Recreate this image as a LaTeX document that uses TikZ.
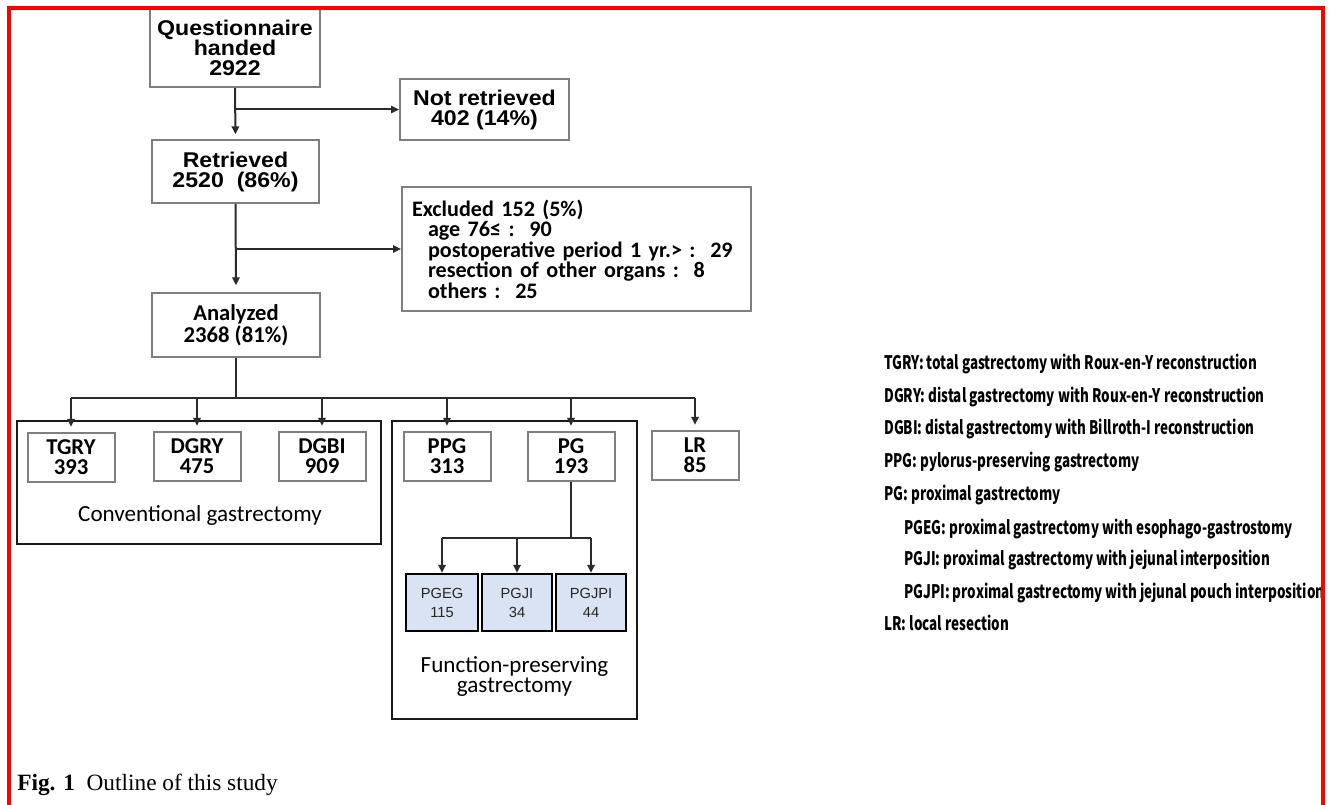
\documentclass[tikz,border=0pt]{standalone}
\usepackage{fontspec}
\setmainfont{Liberation Serif}
\newfontfamily\arialf{Liberation Sans}
\newfontfamily\arialw{Liberation Sans}[FakeStretch=1.085]
\newfontfamily\calf{Carlito}
\newfontfamily\legf{Noto Sans CJK JP}[FakeStretch=0.72]
\usetikzlibrary{arrows.meta,calc}
\definecolor{boxgray}{HTML}{7F7F7F}
\definecolor{linegray}{HTML}{2B2B2B}
\definecolor{subfill}{HTML}{DAE3F3}
\definecolor{framered}{HTML}{FF0000}
\tikzset{
  topbox/.style={draw=boxgray, line width=1.5pt, fill=white, inner sep=0pt, align=center,
    font={\arialw\bfseries\fontsize{16}{15}\selectfont}},
  calbox/.style={draw=boxgray, line width=1.5pt, fill=white, inner sep=0pt, align=center,
    font={\calf\bfseries\fontsize{17}{15}\selectfont}},
  smallbox/.style={calbox, minimum width=65.25pt, minimum height=36.75pt},
  subbox/.style={draw=black, line width=1.8pt, fill=subfill, minimum width=52.5pt,
    minimum height=42.75pt, inner sep=0pt, align=center, text=black!85,
    font={\arialf\fontsize{11}{14.25}\selectfont}},
  groupbox/.style={draw=black!90, line width=2pt, inner sep=0pt},
  grouplabel/.style={inner sep=0pt, align=center, font={\calf\fontsize{17.3}{15}\selectfont}},
  conn/.style={draw=linegray, line width=1.5pt},
  arr/.style={conn, -{Triangle[length=6pt,width=5.5pt]}},
  legend/.style={anchor=base west, inner sep=0pt, font={\legf\bfseries\fontsize{14}{14}\selectfont}}
}
\begin{document}
\begin{tikzpicture}[x=0.75pt,y=-0.75pt]
\useasboundingbox (0,0) rectangle (1333,805);
\fill[white] (0,0) rectangle (1333,805);

% group frames
\node[groupbox, minimum width=273pt, minimum height=92.25pt] (conv) at (199,482.5) {};
\node[groupbox, minimum width=183.75pt, minimum height=223.5pt] (func) at (514.5,570) {};
\node[grouplabel] (convlab) at (200,515) {Conventional gastrectomy};
\node[grouplabel] (funclab) at (514.5,677) {Function-preserving\\gastrectomy};

% main flow
\node[topbox, minimum width=127.5pt, minimum height=58.5pt] (Q) at (235,48) {Questionnaire\\handed\\2922};
\node[topbox, minimum width=126.75pt, minimum height=45.75pt] (NR) at (484.5,109.5) {Not retrieved\\402 (14\%)};
\node[topbox, minimum width=125.25pt, minimum height=47.25pt] (R) at (235.5,171.5) {Retrieved\\2520~~(86\%)};
\node[calbox, text width=246.75pt, inner xsep=7.5pt, minimum height=93pt, align=left,
  font={\calf\bfseries\fontsize{16.6}{15.4}\selectfont}] (EX) at (576.5,249)
  {Excluded 152 (5\%)\\
   \hspace*{12pt}age 76≤ :~~90\\
   \hspace*{12pt}postoperative period 1 yr.> :~~29\\
   \hspace*{12pt}resection of other organs :~~8\\
   \hspace*{12pt}others :~~25};
\node[calbox, minimum width=126pt, minimum height=48pt] (A) at (236,325) {Analyzed\\2368 (81\%)};

% second level
\node[smallbox] (TGRY) at (71,457) {TGRY\\393};
\node[smallbox] (DGRY) at (197,456) {DGRY\\475};
\node[smallbox] (DGBI) at (322,456) {DGBI\\909};
\node[smallbox] (PPG) at (447,456) {PPG\\313};
\node[smallbox] (PG) at (571,456) {PG\\193};
\node[smallbox] (LR) at (695,455) {LR\\85};

% PG sub-types
\node[subbox, minimum width=54pt] (PGEG) at (442,602.5) {PGEG\\115};
\node[subbox] (PGJI) at (517,602.5) {PGJI\\34};
\node[subbox] (PGJPI) at (591,602.5) {PGJPI\\44};

% connectors
\draw[arr, shorten >=3.5pt] (Q.south) -- (R.north);
\coordinate (b1) at (Q.south |- NR.west);
\draw[arr] (b1) -- (NR.west);
\draw[arr, shorten >=5pt] (R.south) -- (A.north);
\coordinate (b2) at (R.south |- EX.west);
\draw[arr] (b2) -- (EX.west);

\coordinate (bar) at (236,398);
\draw[conn] (A.south) -- (bar);
\draw[conn] (TGRY.north |- bar) -- (LR.north |- bar);
\foreach \n in {TGRY,DGRY,DGBI,PPG,PG,LR}
  \draw[arr, shorten >=3.5pt] (\n.north |- bar) -- (\n.north);

\coordinate (pgbar) at (571,538);
\draw[conn] (PG.south) -- (pgbar);
\draw[conn] (PGEG.north |- pgbar) -- (PGJPI.north |- pgbar);
\foreach \n in {PGEG,PGJI,PGJPI}
  \draw[arr] (\n.north |- pgbar) -- (\n.north);

% legend
\node[legend] (l1) at (884,369) {TGRY: total gastrectomy with Roux-en-Y reconstruction};
\node[legend] (l2) at (884,402) {DGRY: distal gastrectomy with Roux-en-Y reconstruction};
\node[legend] (l3) at (884,434) {DGBI: distal gastrectomy with Billroth-I reconstruction};
\node[legend] (l4) at (884,467) {PPG: pylorus-preserving gastrectomy};
\node[legend] (l5) at (884,500) {PG: proximal gastrectomy};
\node[legend] (l6) at (904,534) {PGEG: proximal gastrectomy with esophago-gastrostomy};
\node[legend] (l7) at (904,565) {PGJI: proximal gastrectomy with jejunal interposition};
\node[legend] (l8) at (904,598) {PGJPI: proximal gastrectomy with jejunal pouch interposition};
\node[legend] (l9) at (884,630) {LR: local resection};

% caption
\node[anchor=base west, inner sep=0pt, font=\fontsize{17.5}{20}\selectfont] (cap) at (17,790)
  {\textbf{Fig. 1}~~Outline of this study};

% red frame
\draw[framered, line width=2.6pt] (9,805) -- (9,8) -- (1323,8) -- (1323,805);
\end{tikzpicture}
\end{document}
